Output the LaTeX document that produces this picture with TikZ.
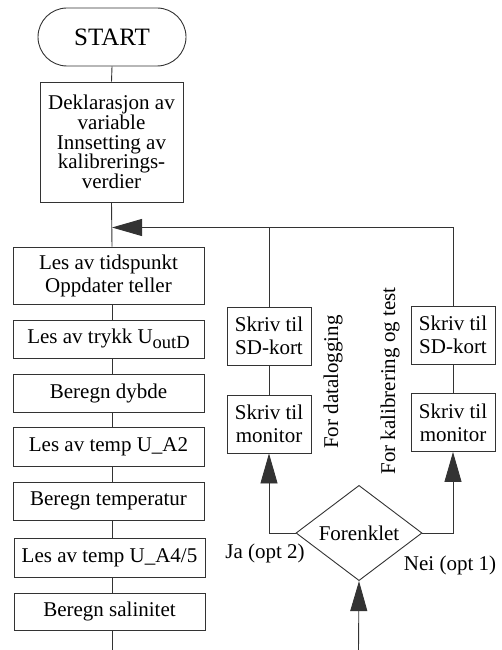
\documentclass[tikz,border=0pt]{standalone}
\usepackage{fontspec}
\setmainfont{Liberation Serif}
\usetikzlibrary{shapes.geometric,arrows.meta}
\newcommand{\mysub}[1]{\raisebox{-4.5pt}{\fontsize{18.5}{19}\selectfont #1}}
\begin{document}
\begin{tikzpicture}[x=1pt,y=-1pt,
  every node/.style={font=\fontsize{21}{23}\selectfont},
  line/.style={draw=black!80,line width=0.9pt},
  box/.style={line,rectangle,inner sep=0pt,align=center},
  lbox/.style={box,minimum width=191pt},
  rbox/.style={box,minimum width=84pt,minimum height=58pt},
  arr/.style={line,-{Triangle[length=30pt,width=17pt]}}]
\useasboundingbox (0,0) rectangle (502,650);
\fill[white] (0,0) rectangle (502,650);
\node[box,rounded corners=29pt,minimum width=148pt,minimum height=58pt,font=\fontsize{25}{28}\selectfont] (start) at (112,37) {START};
\node[box,minimum width=143pt,minimum height=120pt,font=\fontsize{21}{19.8}\selectfont] (dekl) at (111.5,142) {Deklarasjon av\\variable\\Innsetting av\\kalibrerings-\\verdier};
\coordinate (j) at (112,227.5);
\coordinate (endL) at (112,650);
\node[lbox,minimum height=57pt] (b1) at (108.5,275.5) {Les av tidspunkt\\Oppdater teller};
\node[lbox,minimum height=38pt] (b2) at (108.5,339) {Les av trykk U\mysub{outD}};
\node[lbox,minimum height=38pt] (b3) at (108.5,393) {Beregn dybde};
\node[lbox,minimum height=39pt] (b4) at (108.5,446.5) {Les av temp U\_A2};
\node[lbox,minimum height=38pt] (b5) at (108.5,501) {Beregn temperatur};
\node[lbox,minimum height=39pt] (b6) at (109.5,557.5) {Les av temp U\_A4/5};
\node[lbox,minimum height=37pt] (b7) at (109.5,611.5) {Beregn salinitet};
\node[rbox] (sd1) at (269,336) {Skriv til\\SD-kort};
\node[rbox] (mon1) at (269,424) {Skriv til\\monitor};
\node[rbox] (sd2) at (453,335) {Skriv til\\SD-kort};
\node[rbox] (mon2) at (453,422.5) {Skriv til\\monitor};
\node[line,diamond,minimum width=126pt,minimum height=78pt,inner sep=0pt] (dia) at (359,533) {Forenklet};
\coordinate (endB) at (358.5,650);
\node[rotate=90] (t1) at (333,382) {For datalogging};
\node[rotate=90] (t2) at (390,381) {For kalibrering og test};
\node (ja) at (265,553) {Ja (opt 2)};
\node (nei) at (450,565) {Nei (opt 1)};
% connectors
\draw[line] (start.south) -- (dekl.north);
\draw[line] (dekl.south) -- (b1.north -| j);
\draw[arr] (sd2.north) |- (j);
\draw[line] (sd1.north) -- (sd1.north |- j);
\draw[line] (b1.south -| j) -- (b2.north -| j);
\draw[line] (b2.south -| j) -- (b3.north -| j);
\draw[line] (b3.south -| j) -- (b4.north -| j);
\draw[line] (b4.south -| j) -- (b5.north -| j);
\draw[line] (b5.south -| j) -- (b6.north -| j);
\draw[line] (b6.south -| j) -- (b7.north -| j);
\draw[line] (b7.south -| j) -- (endL);
\draw[line] (sd1) -- (mon1);
\draw[line] (sd2) -- (mon2);
\draw[arr] (dia.west) -| (mon1.south);
\draw[arr] (dia.east) -| (mon2.south);
\draw[arr] (endB) -- (dia.south);
\end{tikzpicture}
\end{document}
